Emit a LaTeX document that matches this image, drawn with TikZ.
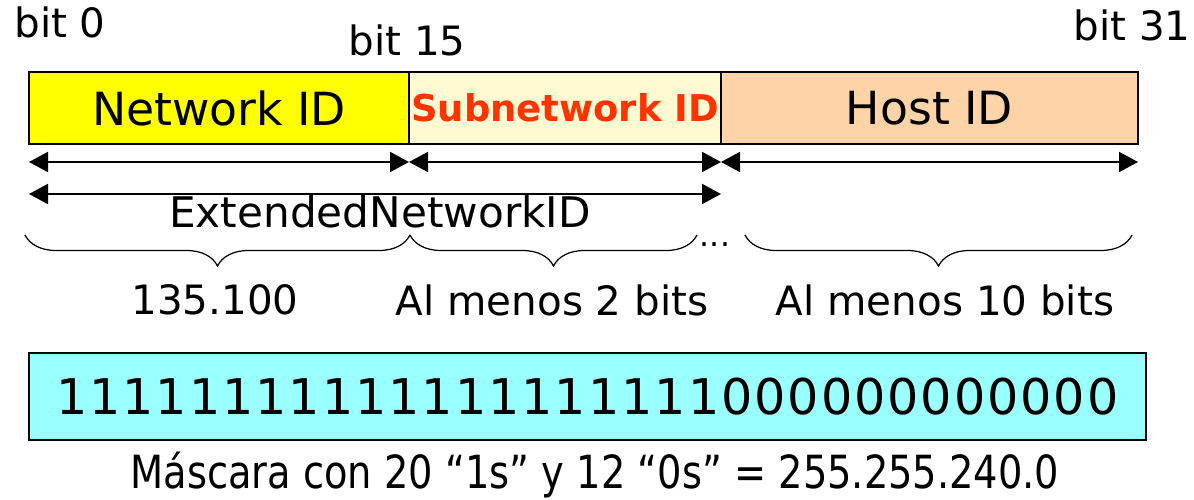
\documentclass[tikz,border=0pt]{standalone}
\usepackage{fontspec}
\setmainfont{DejaVu Sans}
\usetikzlibrary{positioning, arrows.meta, decorations.pathreplacing}

\definecolor{netyellow}{HTML}{FFFF00}
\definecolor{subcream}{HTML}{FFFAD2}
\definecolor{hostpeach}{HTML}{FFD3A8}
\definecolor{maskcyan}{HTML}{99FFFF}
\definecolor{subred}{HTML}{FF3300}

\tikzset{
    field/.style={draw, line width=1pt, minimum height=1.44cm, inner sep=0pt, outer sep=0pt},
    span/.style={{Triangle[length=0.38cm, width=0.4cm]}-{Triangle[length=0.38cm, width=0.4cm]}, line width=1.1pt},
    brace/.style={decorate, decoration={brace, mirror, amplitude=0.62cm}, line width=0.7pt},
    big/.style={font=\fontsize{26}{30}\selectfont},
    mid/.style={font=\fontsize{23}{27}\selectfont},
}

\begin{document}
\begin{tikzpicture}
    \useasboundingbox (0, 0) rectangle (23.88, -10);

    % bit positions
    \node[mid] (bit0) at (1.2, -0.44) {bit 0};
    \node[mid] (bit15) at (8.14, -0.8) {bit 15};
    \node[mid] (bit31) at (22.64, -0.5) {bit 31};

    % address fields
    \node[field, fill=netyellow, minimum width=7.6cm, anchor=north west, big] (net) at (0.58, -1.44) {Network ID};
    \node[field, fill=subcream, minimum width=6.24cm, anchor=west, text=subred,
          font=\fontsize{21}{25}\selectfont\bfseries] (sub) at (net.east) {Subnetwork ID};
    \node[field, fill=hostpeach, minimum width=8.34cm, anchor=west, big] (host) at (sub.east) {Host ID};

    \draw[span] ([yshift=-0.36cm]net.south west) -- ([yshift=-0.36cm]net.south east);
    \draw[span] ([yshift=-0.36cm]sub.south west) -- ([yshift=-0.36cm]sub.south east);
    \draw[span] ([yshift=-0.36cm]host.south west) -- ([yshift=-0.36cm]host.south east);

    \node[font=\fontsize{24}{28}\selectfont] (ext) at (7.6, -4.24) {ExtendedNetworkID};
    \draw[span] ([yshift=-1cm]net.south west) -- ([yshift=-1cm]sub.south east);

    % braces
    \coordinate (b0) at (0.5, -4.7);
    \coordinate (b1) at (8.2, -4.7);
    \coordinate (b2) at (13.94, -4.7);
    \coordinate (b3) at (14.9, -4.7);
    \coordinate (b4) at (22.64, -4.7);
    \draw[brace] (b0) -- (b1);
    \draw[brace] (b1) -- (b2);
    \draw[brace] (b3) -- (b4);
    \node[font=\fontsize{18}{20}\selectfont] (dots) at (14.3, -4.9) {...};

    \node[mid] (netbits) at (4.3, -6.0) {135.100};
    \node[mid] (subbits) at (11.04, -6.0) {Al menos 2 bits};
    \node[mid] (hostbits) at (18.9, -6.0) {Al menos 10 bits};

    % mask
    \node[field, fill=maskcyan, minimum width=22.34cm, minimum height=1.74cm, anchor=north west,
          font=\fontsize{28}{32}\selectfont\addfontfeature{LetterSpace=4}] (mask) at (0.58, -7.06)
          {11111111111111111111000000000000};
    \node[big] (caption) at (11.9, -9.5) {\addfontfeature{FakeStretch=0.84}Máscara con 20 “1s” y 12 “0s” = 255.255.240.0};

\end{tikzpicture}
\end{document}
